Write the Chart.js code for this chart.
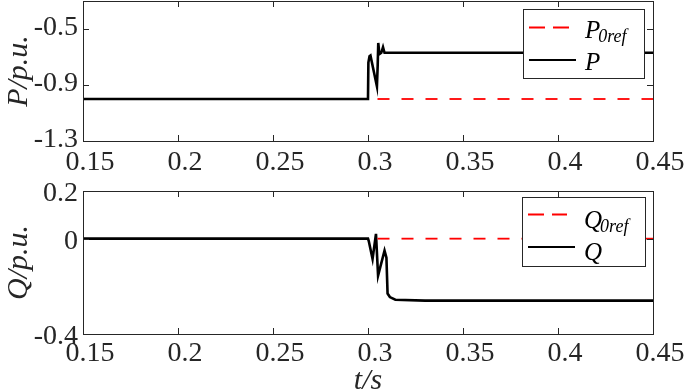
<!DOCTYPE html>
<html>
<head>
<meta charset="utf-8">
<script src="https://cdn.jsdelivr.net/npm/chart.js@4.4.1/dist/chart.umd.min.js"></script>
<style>
  html, body { margin: 0; padding: 0; background: #fff; }
  #wrap { position: relative; width: 685px; height: 392px; overflow: hidden; }
  canvas { position: absolute; left: 0; }
  #topChart { top: 0; }
  #bottomChart { top: 170px; }
</style>
</head>
<body>
<div id="wrap">
  <canvas id="topChart" width="685" height="185"></canvas>
  <canvas id="bottomChart" width="685" height="222"></canvas>
</div>
<script>
// Shared time axis (seconds)
const xTicks = [0.15, 0.2, 0.25, 0.3, 0.35, 0.4, 0.45];
const xTickLabels = ['0.15', '0.2', '0.25', '0.3', '0.35', '0.4', '0.45'];

// Active power P and its reference (p.u.)
const pTime = [0.15, 0.3, 0.3002, 0.3008, 0.3013, 0.3030, 0.3047, 0.3051, 0.3054, 0.3060, 0.3070, 0.3079, 0.3087, 0.3100, 0.45];
const pValues = [-1.0, -1.0, -0.74, -0.695, -0.69, -0.80, -0.91, -0.76, -0.60, -0.68, -0.67, -0.63, -0.67, -0.67, -0.67];
const pRefTime = [0.305, 0.45];
const pRefValues = [-1.0, -1.0];
const pTicks = [-1.3, -0.9, -0.5];
const pTickLabels = ['-1.3', '-0.9', '-0.5'];

// Reactive power Q and its reference (p.u.)
const qTime = [0.15, 0.3, 0.3004, 0.3024, 0.3042, 0.3053, 0.3087, 0.3097, 0.3103, 0.3115, 0.3144, 0.33, 0.45];
const qValues = [0, 0, -0.01, -0.085, 0.02, -0.155, -0.05, -0.08, -0.23, -0.245, -0.256, -0.26, -0.26];
const qRefTime = [0.305, 0.45];
const qRefValues = [0, 0];
const qTicks = [-0.4, 0, 0.2];
const qTickLabels = ['-0.4', '0', '0.2'];

const axisColor = '#262626';
Chart.defaults.font.family = "'Liberation Serif', 'Times New Roman', serif";
Chart.defaults.color = axisColor;

// zip two arrays into {x, y} points
function toPoints(xs, ys) {
    return xs.map((x, i) => ({ x: x, y: ys[i] }));
}

// MATLAB style box with inward tick marks on all four sides
const boxPlugin = {
    id: 'boxTicks',
    afterDatasetsDraw(chart) {
        const ctx = chart.ctx;
        const a = chart.chartArea;
        const xs = chart.scales.x, ys = chart.scales.y;
        const len = 6;
        ctx.save();
        ctx.strokeStyle = axisColor;
        ctx.lineWidth = 1;
        ctx.beginPath();
        xs.ticks.forEach(t => {
            const px = Math.round(xs.getPixelForValue(t.value)) + 0.5;
            ctx.moveTo(px, a.bottom); ctx.lineTo(px, a.bottom - len);
            ctx.moveTo(px, a.top); ctx.lineTo(px, a.top + len);
        });
        ys.ticks.forEach(t => {
            const py = Math.round(ys.getPixelForValue(t.value)) + 0.5;
            ctx.moveTo(a.left, py); ctx.lineTo(a.left + len, py);
            ctx.moveTo(a.right, py); ctx.lineTo(a.right - len, py);
        });
        ctx.stroke();
        ctx.strokeRect(Math.round(a.left) + 0.5, Math.round(a.top) + 0.5,
            Math.round(a.right - a.left), Math.round(a.bottom - a.top));
        ctx.restore();
    }
};

// Legend drawn by hand so the reference name can carry a subscript
function legendPlugin(box, rows) {
    return {
        id: 'subLegend',
        afterDraw(chart) {
            const ctx = chart.ctx;
            ctx.save();
            ctx.fillStyle = '#fff';
            ctx.fillRect(box.x, box.y, box.w, box.h);
            ctx.strokeStyle = axisColor;
            ctx.lineWidth = 1;
            ctx.strokeRect(box.x + 0.5, box.y + 0.5, box.w, box.h);
            rows.forEach((row, i) => {
                const ds = chart.data.datasets[i];
                const y = box.y + row.lineY;
                ctx.beginPath();
                ctx.strokeStyle = ds.borderColor;
                ctx.lineWidth = 1.8;
                ctx.setLineDash(row.dash);
                ctx.moveTo(box.x + 6, y);
                ctx.lineTo(box.x + row.lineEnd, y);
                ctx.stroke();
                ctx.setLineDash([]);
                const tx = box.x + 62;
                const base = box.y + row.baseY;
                ctx.fillStyle = '#000';
                ctx.textBaseline = 'alphabetic';
                ctx.font = "italic 25px 'Liberation Serif', serif";
                ctx.fillText(row.name, tx, base);
                if (row.sub) {
                    const w = ctx.measureText(row.name).width;
                    ctx.font = "italic 18px 'Liberation Serif', serif";
                    ctx.fillText(row.sub, tx + w - 2, base + 4);
                }
            });
            ctx.restore();
        }
    };
}

// Build one of the two stacked panels
function makePanel(id, opts) {
    return new Chart(document.getElementById(id), {
        type: 'line',
        data: {
            datasets: [
                {
                    label: opts.refLabel,
                    data: toPoints(opts.refTime, opts.refValues),
                    borderColor: '#ff0000',
                    borderWidth: 1.8,
                    borderDash: [12, 12],
                    pointRadius: 0,
                    tension: 0
                },
                {
                    label: opts.label,
                    data: toPoints(opts.time, opts.values),
                    borderColor: '#000000',
                    borderWidth: 2.6,
                    pointRadius: 0,
                    tension: 0
                }
            ]
        },
        options: {
            responsive: false,
            animation: false,
            devicePixelRatio: 1,
            events: [],
            layout: { padding: { left: 0, right: 32, top: opts.padTop, bottom: 0 } },
            plugins: {
                legend: { display: false },
                tooltip: { enabled: false }
            },
            scales: {
                x: {
                    type: 'linear',
                    min: 0.15,
                    max: 0.45,
                    afterBuildTicks: s => { s.ticks = xTicks.map(v => ({ value: v })); },
                    afterFit: s => { s.height = opts.xHeight; s.paddingLeft = 0; s.paddingRight = 0; },
                    grid: { display: false, drawTicks: false },
                    border: { display: false },
                    ticks: {
                        callback: (v, i) => xTickLabels[i],
                        autoSkip: false,
                        maxRotation: 0,
                        padding: opts.xPad,
                        labelOffset: 7,
                        color: axisColor,
                        font: { size: 28 }
                    },
                    title: {
                        display: !!opts.xTitle,
                        text: opts.xTitle || '',
                        color: axisColor,
                        font: { size: 30, style: 'italic', lineHeight: 0.7 },
                        padding: { top: 0, bottom: 0 }
                    }
                },
                y: {
                    type: 'linear',
                    min: opts.yMin,
                    max: opts.yMax,
                    afterBuildTicks: s => { s.ticks = opts.yTicks.map(v => ({ value: v })); },
                    afterFit: s => { s.width = 83; s.paddingTop = 0; s.paddingBottom = 0; },
                    grid: { display: false, drawTicks: false },
                    border: { display: false },
                    ticks: {
                        callback: (v, i) => opts.yTickLabels[i],
                        autoSkip: false,
                        padding: 5,
                        labelOffset: opts.yLabelOffset,
                        color: axisColor,
                        font: { size: 28 }
                    },
                    title: {
                        display: true,
                        text: opts.yTitle,
                        color: axisColor,
                        font: { size: 30, style: 'italic' },
                        padding: { top: 1, bottom: 0 }
                    }
                }
            }
        },
        plugins: [boxPlugin, legendPlugin(opts.legendBox, opts.legendRows)]
    });
}

// Upper panel: active power
makePanel('topChart', {
    refLabel: 'P0ref', label: 'P',
    refTime: pRefTime, refValues: pRefValues,
    time: pTime, values: pValues,
    yMin: -1.3, yMax: -0.3,
    yTicks: pTicks, yTickLabels: pTickLabels, yLabelOffset: -1,
    yTitle: 'P/p.u.',
    padTop: 1, xHeight: 44, xPad: 5,
    legendBox: { x: 523, y: 9, w: 121, h: 69 },
    legendRows: [
        { name: 'P', sub: '0ref', dash: [16, 8], lineY: 18.5, lineEnd: 47, baseY: 29 },
        { name: 'P', sub: '', dash: [], lineY: 51, lineEnd: 53, baseY: 61 }
    ]
});

// Lower panel: reactive power
makePanel('bottomChart', {
    refLabel: 'Q0ref', label: 'Q',
    refTime: qRefTime, refValues: qRefValues,
    time: qTime, values: qValues,
    yMin: -0.4, yMax: 0.2,
    yTicks: qTicks, yTickLabels: qTickLabels, yLabelOffset: 3,
    yTitle: 'Q/p.u.',
    xTitle: 't/s',
    padTop: 21, xHeight: 58, xPad: 3,
    legendBox: { x: 522, y: 27, w: 123, h: 69 },
    legendRows: [
        { name: 'Q', sub: '0ref', dash: [16, 8], lineY: 17.5, lineEnd: 45, baseY: 31 },
        { name: 'Q', sub: '', dash: [], lineY: 50, lineEnd: 53, baseY: 63 }
    ]
});
</script>
</body>
</html>
